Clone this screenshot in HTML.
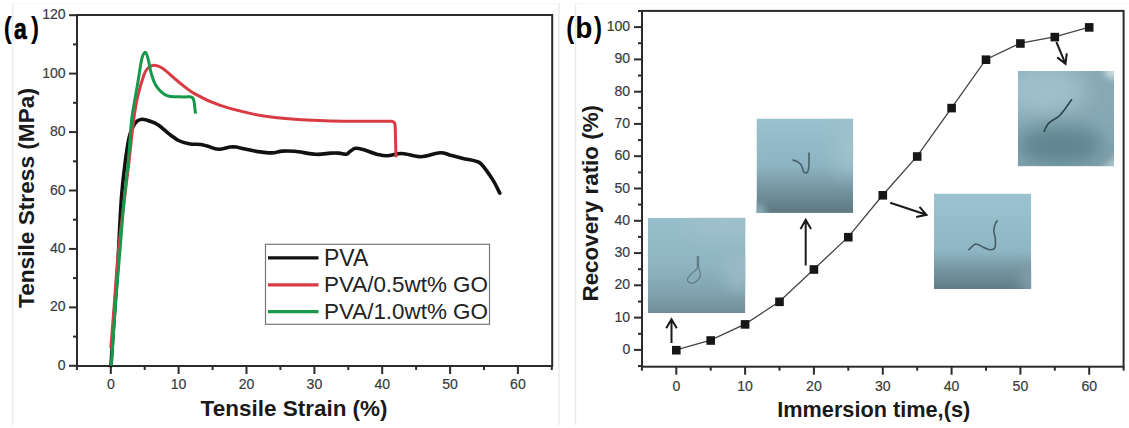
<!DOCTYPE html>
<html><head><meta charset="utf-8"><style>
html,body{margin:0;padding:0;background:#fff;width:1129px;height:428px;overflow:hidden}
svg{display:block} svg text{font-family:"Liberation Sans",sans-serif}
</style></head><body>
<svg width="1129" height="428" viewBox="0 0 1129 428">
<defs>
 <filter id="bl6" x="-50%" y="-50%" width="200%" height="200%"><feGaussianBlur stdDeviation="6"/></filter>
 <filter id="bl10" x="-50%" y="-50%" width="200%" height="200%"><feGaussianBlur stdDeviation="10"/></filter>
 <filter id="bl3" x="-50%" y="-50%" width="200%" height="200%"><feGaussianBlur stdDeviation="3"/></filter>
 <filter id="bl05" x="-50%" y="-50%" width="200%" height="200%"><feGaussianBlur stdDeviation="0.5"/></filter>
 <clipPath id="c1"><rect x="647.8" y="217.8" width="97.6" height="95.2"/></clipPath>
 <clipPath id="c2"><rect x="756.5" y="118.5" width="96.7" height="94.4"/></clipPath>
 <clipPath id="c3"><rect x="933.9" y="193.6" width="97.3" height="95.4"/></clipPath>
 <clipPath id="c4"><rect x="1017.9" y="70.9" width="96.1" height="95.4"/></clipPath>
</defs>
<g stroke="#ebebeb" stroke-width="1.5" fill="none"><line x1="12.6" y1="3" x2="12.6" y2="425"/><line x1="559" y1="3" x2="559" y2="425"/><line x1="575.5" y1="3" x2="575.5" y2="425"/></g>
<g stroke="#f7f7f7" stroke-width="1" fill="none"><line x1="13" y1="3.5" x2="559" y2="3.5"/><line x1="575.5" y1="3.5" x2="1129" y2="3.5"/></g>
<rect x="77.0" y="15.0" width="475.20000000000005" height="351.0" fill="none" stroke="#2b2b2b" stroke-width="2"/><line x1="69.0" y1="365.8" x2="77.0" y2="365.8" stroke="#2b2b2b" stroke-width="2"/><line x1="73.0" y1="336.6" x2="77.0" y2="336.6" stroke="#2b2b2b" stroke-width="2"/><line x1="69.0" y1="307.4" x2="77.0" y2="307.4" stroke="#2b2b2b" stroke-width="2"/><line x1="73.0" y1="278.1" x2="77.0" y2="278.1" stroke="#2b2b2b" stroke-width="2"/><line x1="69.0" y1="248.9" x2="77.0" y2="248.9" stroke="#2b2b2b" stroke-width="2"/><line x1="73.0" y1="219.7" x2="77.0" y2="219.7" stroke="#2b2b2b" stroke-width="2"/><line x1="69.0" y1="190.5" x2="77.0" y2="190.5" stroke="#2b2b2b" stroke-width="2"/><line x1="73.0" y1="161.3" x2="77.0" y2="161.3" stroke="#2b2b2b" stroke-width="2"/><line x1="69.0" y1="132.1" x2="77.0" y2="132.1" stroke="#2b2b2b" stroke-width="2"/><line x1="73.0" y1="102.8" x2="77.0" y2="102.8" stroke="#2b2b2b" stroke-width="2"/><line x1="69.0" y1="73.6" x2="77.0" y2="73.6" stroke="#2b2b2b" stroke-width="2"/><line x1="73.0" y1="44.4" x2="77.0" y2="44.4" stroke="#2b2b2b" stroke-width="2"/><line x1="69.0" y1="15.2" x2="77.0" y2="15.2" stroke="#2b2b2b" stroke-width="2"/><line x1="76.9" y1="366.0" x2="76.9" y2="370.0" stroke="#2b2b2b" stroke-width="2"/><line x1="110.8" y1="366.0" x2="110.8" y2="374.0" stroke="#2b2b2b" stroke-width="2"/><line x1="144.7" y1="366.0" x2="144.7" y2="370.0" stroke="#2b2b2b" stroke-width="2"/><line x1="178.6" y1="366.0" x2="178.6" y2="374.0" stroke="#2b2b2b" stroke-width="2"/><line x1="212.6" y1="366.0" x2="212.6" y2="370.0" stroke="#2b2b2b" stroke-width="2"/><line x1="246.5" y1="366.0" x2="246.5" y2="374.0" stroke="#2b2b2b" stroke-width="2"/><line x1="280.4" y1="366.0" x2="280.4" y2="370.0" stroke="#2b2b2b" stroke-width="2"/><line x1="314.4" y1="366.0" x2="314.4" y2="374.0" stroke="#2b2b2b" stroke-width="2"/><line x1="348.3" y1="366.0" x2="348.3" y2="370.0" stroke="#2b2b2b" stroke-width="2"/><line x1="382.2" y1="366.0" x2="382.2" y2="374.0" stroke="#2b2b2b" stroke-width="2"/><line x1="416.1" y1="366.0" x2="416.1" y2="370.0" stroke="#2b2b2b" stroke-width="2"/><line x1="450.1" y1="366.0" x2="450.1" y2="374.0" stroke="#2b2b2b" stroke-width="2"/><line x1="484.0" y1="366.0" x2="484.0" y2="370.0" stroke="#2b2b2b" stroke-width="2"/><line x1="517.9" y1="366.0" x2="517.9" y2="374.0" stroke="#2b2b2b" stroke-width="2"/><line x1="551.8" y1="366.0" x2="551.8" y2="370.0" stroke="#2b2b2b" stroke-width="2"/>
<g  font-size="15.3" fill="#3a3a3a" stroke="#3a3a3a" stroke-width="0.2"><text transform="translate(65.6,369.8) scale(0.92,1)" text-anchor="end">0</text><text transform="translate(65.6,311.4) scale(0.92,1)" text-anchor="end">20</text><text transform="translate(65.6,252.9) scale(0.92,1)" text-anchor="end">40</text><text transform="translate(65.6,194.5) scale(0.92,1)" text-anchor="end">60</text><text transform="translate(65.6,136.1) scale(0.92,1)" text-anchor="end">80</text><text transform="translate(65.6,77.6) scale(0.92,1)" text-anchor="end">100</text><text transform="translate(65.6,19.2) scale(0.92,1)" text-anchor="end">120</text><text transform="translate(110.8,389.2) scale(0.92,1)" text-anchor="middle">0</text><text transform="translate(178.6,389.2) scale(0.92,1)" text-anchor="middle">10</text><text transform="translate(246.5,389.2) scale(0.92,1)" text-anchor="middle">20</text><text transform="translate(314.4,389.2) scale(0.92,1)" text-anchor="middle">30</text><text transform="translate(382.2,389.2) scale(0.92,1)" text-anchor="middle">40</text><text transform="translate(450.1,389.2) scale(0.92,1)" text-anchor="middle">50</text><text transform="translate(517.9,389.2) scale(0.92,1)" text-anchor="middle">60</text></g>
<text x="200.6" y="416"  font-weight="bold" font-size="22.3" fill="#1a1a1a" textLength="187" lengthAdjust="spacingAndGlyphs">Tensile Strain (%)</text>
<text transform="translate(33.8,308) rotate(-90)" x="0" y="0"  font-weight="bold" font-size="22.5" fill="#1a1a1a" textLength="220" lengthAdjust="spacingAndGlyphs">Tensile Stress (MPa)</text>
<g  font-weight="bold" font-size="29.5" fill="#000"><text transform="translate(3.7,38.3) scale(0.82,1)">(</text><text transform="translate(14.0,38.6) scale(0.8,1)" font-size="28.6" stroke="#000" stroke-width="0.7">a</text><text transform="translate(30.9,38.3) scale(0.82,1)">)</text></g>
<path d="M111.0,365.8 C111.5,358.2 112.9,336.0 114.0,320.0 C115.1,304.0 116.3,290.0 117.5,270.0 C118.7,250.0 120.0,218.3 121.3,200.0 C122.6,181.7 124.2,170.3 125.5,160.0 C126.8,149.7 127.9,143.2 129.0,138.0 C130.1,132.8 131.0,131.4 132.0,129.0 C133.0,126.6 134.0,124.9 135.0,123.5 C136.0,122.1 136.8,121.2 138.0,120.5 C139.2,119.8 140.5,119.1 142.4,119.2 C144.3,119.3 146.8,120.0 149.5,121.0 C152.2,122.0 155.1,122.8 158.3,125.0 C161.6,127.2 165.4,131.2 169.0,133.9 C172.6,136.6 176.1,139.3 179.6,141.0 C183.1,142.7 186.6,143.4 190.2,144.0 C193.8,144.6 197.9,144.1 200.9,144.5 C203.9,144.9 205.1,145.5 208.0,146.3 C210.9,147.1 214.5,149.2 218.6,149.3 C222.7,149.4 228.3,146.9 232.7,146.8 C237.1,146.8 241.0,148.2 245.1,149.0 C249.2,149.8 253.1,150.9 257.5,151.6 C261.9,152.2 267.6,153.0 271.7,152.9 C275.8,152.8 278.5,151.4 282.3,151.1 C286.1,150.8 289.1,150.8 294.7,151.3 C300.3,151.8 310.0,154.0 316.0,154.3 C322.0,154.6 326.7,153.3 330.5,153.1 C334.3,152.9 336.3,152.9 338.9,153.1 C341.5,153.3 344.4,154.5 346.3,154.2 C348.2,153.9 348.5,152.5 350.0,151.5 C351.5,150.5 353.3,148.6 355.5,148.3 C357.7,148.0 359.4,148.5 363.0,149.5 C366.6,150.5 372.8,153.1 376.8,154.2 C380.9,155.2 383.1,155.9 387.3,155.8 C391.5,155.7 396.4,153.3 402.0,153.5 C407.6,153.7 414.7,156.8 421.0,156.7 C427.3,156.6 435.0,152.9 439.9,152.7 C444.8,152.4 446.5,154.2 450.4,155.2 C454.2,156.1 458.8,157.4 463.0,158.4 C467.2,159.4 472.5,160.1 475.6,161.1 C478.8,162.1 479.1,161.6 481.9,164.7 C484.7,167.8 489.5,174.7 492.5,179.4 C495.5,184.1 498.6,190.8 499.8,193.1" fill="none" stroke="#111" stroke-width="3.6" stroke-linejoin="round" stroke-linecap="round"/>
<path d="M110.8,348.0 C111.4,340.8 113.0,321.0 114.2,305.0 C115.5,289.0 116.6,269.5 118.3,252.0 C120.0,234.5 122.5,215.3 124.3,200.0 C126.1,184.7 127.7,173.0 129.2,160.0 C130.7,147.0 132.0,132.5 133.4,122.0 C134.8,111.5 135.8,104.8 137.6,97.0 C139.3,89.2 142.2,79.8 143.9,75.0 C145.6,70.2 146.2,69.6 148.0,68.0 C149.8,66.4 151.9,65.1 154.4,65.2 C156.9,65.3 159.0,65.8 162.9,68.4 C166.8,71.0 172.3,76.8 177.6,81.0 C182.8,85.2 187.4,89.6 194.4,93.6 C201.4,97.6 210.1,101.9 219.6,105.2 C229.1,108.5 240.7,111.4 251.2,113.6 C261.7,115.8 270.4,117.0 282.7,118.2 C295.0,119.4 311.9,120.3 324.8,120.8 C337.7,121.3 349.0,121.2 360.0,121.3 C371.0,121.4 385.8,121.3 391.0,121.3 Q395.2,121.3 395.2,126 L396,157.3" fill="none" stroke="#d93b45" stroke-width="3.0" stroke-linejoin="round" stroke-linecap="butt"/>
<path d="M111.2,365.8 C112.0,354.8 114.3,319.3 115.8,300.0 C117.3,280.7 118.6,266.7 120.0,250.0 C121.4,233.3 122.7,215.0 124.1,200.0 C125.5,185.0 127.2,173.3 128.4,160.0 C129.7,146.7 130.5,130.0 131.6,120.0 C132.7,110.0 133.8,106.0 134.8,100.0 C135.8,94.0 136.4,90.8 137.6,84.0 C138.8,77.2 140.5,64.2 141.8,58.9 C143.1,53.6 144.4,52.2 145.4,52.2 C146.4,52.2 147.1,55.3 148.1,58.9 C149.1,62.5 149.9,69.0 151.3,73.6 C152.7,78.2 153.9,82.6 156.5,86.3 C159.1,90.0 163.2,94.0 167.1,95.7 C171.0,97.5 175.8,96.6 179.7,96.8 C183.5,97.0 188.4,96.8 190.2,96.8 Q193.3,97 194,101 L195.5,113.6" fill="none" stroke="#17994b" stroke-width="3.0" stroke-linejoin="round" stroke-linecap="butt"/>
<rect x="265.5" y="244.3" width="224" height="80" fill="#fff" stroke="#777" stroke-width="1.2"/>
<line x1="268" y1="257.9" x2="318.5" y2="257.9" stroke="#111" stroke-width="3.2"/>
<line x1="268" y1="284.8" x2="318.5" y2="284.8" stroke="#d93b45" stroke-width="3.2"/>
<line x1="268" y1="311.6" x2="318.5" y2="311.6" stroke="#17994b" stroke-width="3.2"/>
<g  font-size="22.5" fill="#222"><text x="324" y="265.6" font-size="23">PVA</text><text x="324" y="292.4" textLength="164" lengthAdjust="spacingAndGlyphs">PVA/0.5wt% GO</text><text x="324" y="319.2" textLength="164" lengthAdjust="spacingAndGlyphs">PVA/1.0wt% GO</text></g>
<rect x="642.0" y="10.9" width="481.5999999999999" height="355.8" fill="none" stroke="#2b2b2b" stroke-width="2"/><line x1="638.0" y1="366.0" x2="642.0" y2="366.0" stroke="#2b2b2b" stroke-width="2"/><line x1="634.0" y1="349.9" x2="642.0" y2="349.9" stroke="#2b2b2b" stroke-width="2"/><line x1="638.0" y1="333.8" x2="642.0" y2="333.8" stroke="#2b2b2b" stroke-width="2"/><line x1="634.0" y1="317.6" x2="642.0" y2="317.6" stroke="#2b2b2b" stroke-width="2"/><line x1="638.0" y1="301.5" x2="642.0" y2="301.5" stroke="#2b2b2b" stroke-width="2"/><line x1="634.0" y1="285.3" x2="642.0" y2="285.3" stroke="#2b2b2b" stroke-width="2"/><line x1="638.0" y1="269.2" x2="642.0" y2="269.2" stroke="#2b2b2b" stroke-width="2"/><line x1="634.0" y1="253.1" x2="642.0" y2="253.1" stroke="#2b2b2b" stroke-width="2"/><line x1="638.0" y1="236.9" x2="642.0" y2="236.9" stroke="#2b2b2b" stroke-width="2"/><line x1="634.0" y1="220.8" x2="642.0" y2="220.8" stroke="#2b2b2b" stroke-width="2"/><line x1="638.0" y1="204.6" x2="642.0" y2="204.6" stroke="#2b2b2b" stroke-width="2"/><line x1="634.0" y1="188.5" x2="642.0" y2="188.5" stroke="#2b2b2b" stroke-width="2"/><line x1="638.0" y1="172.4" x2="642.0" y2="172.4" stroke="#2b2b2b" stroke-width="2"/><line x1="634.0" y1="156.2" x2="642.0" y2="156.2" stroke="#2b2b2b" stroke-width="2"/><line x1="638.0" y1="140.1" x2="642.0" y2="140.1" stroke="#2b2b2b" stroke-width="2"/><line x1="634.0" y1="123.9" x2="642.0" y2="123.9" stroke="#2b2b2b" stroke-width="2"/><line x1="638.0" y1="107.8" x2="642.0" y2="107.8" stroke="#2b2b2b" stroke-width="2"/><line x1="634.0" y1="91.7" x2="642.0" y2="91.7" stroke="#2b2b2b" stroke-width="2"/><line x1="638.0" y1="75.5" x2="642.0" y2="75.5" stroke="#2b2b2b" stroke-width="2"/><line x1="634.0" y1="59.4" x2="642.0" y2="59.4" stroke="#2b2b2b" stroke-width="2"/><line x1="638.0" y1="43.2" x2="642.0" y2="43.2" stroke="#2b2b2b" stroke-width="2"/><line x1="634.0" y1="27.1" x2="642.0" y2="27.1" stroke="#2b2b2b" stroke-width="2"/><line x1="638.0" y1="11.0" x2="642.0" y2="11.0" stroke="#2b2b2b" stroke-width="2"/><line x1="641.9" y1="366.7" x2="641.9" y2="370.7" stroke="#2b2b2b" stroke-width="2"/><line x1="676.3" y1="366.7" x2="676.3" y2="374.7" stroke="#2b2b2b" stroke-width="2"/><line x1="710.7" y1="366.7" x2="710.7" y2="370.7" stroke="#2b2b2b" stroke-width="2"/><line x1="745.1" y1="366.7" x2="745.1" y2="374.7" stroke="#2b2b2b" stroke-width="2"/><line x1="779.5" y1="366.7" x2="779.5" y2="370.7" stroke="#2b2b2b" stroke-width="2"/><line x1="813.9" y1="366.7" x2="813.9" y2="374.7" stroke="#2b2b2b" stroke-width="2"/><line x1="848.3" y1="366.7" x2="848.3" y2="370.7" stroke="#2b2b2b" stroke-width="2"/><line x1="882.8" y1="366.7" x2="882.8" y2="374.7" stroke="#2b2b2b" stroke-width="2"/><line x1="917.2" y1="366.7" x2="917.2" y2="370.7" stroke="#2b2b2b" stroke-width="2"/><line x1="951.6" y1="366.7" x2="951.6" y2="374.7" stroke="#2b2b2b" stroke-width="2"/><line x1="986.0" y1="366.7" x2="986.0" y2="370.7" stroke="#2b2b2b" stroke-width="2"/><line x1="1020.4" y1="366.7" x2="1020.4" y2="374.7" stroke="#2b2b2b" stroke-width="2"/><line x1="1054.8" y1="366.7" x2="1054.8" y2="370.7" stroke="#2b2b2b" stroke-width="2"/><line x1="1089.2" y1="366.7" x2="1089.2" y2="374.7" stroke="#2b2b2b" stroke-width="2"/><line x1="1123.6" y1="366.7" x2="1123.6" y2="370.7" stroke="#2b2b2b" stroke-width="2"/>
<g  font-size="15.3" fill="#3a3a3a" stroke="#3a3a3a" stroke-width="0.2"><text transform="translate(630.2,353.9) scale(0.92,1)" text-anchor="end">0</text><text transform="translate(630.2,321.6) scale(0.92,1)" text-anchor="end">10</text><text transform="translate(630.2,289.3) scale(0.92,1)" text-anchor="end">20</text><text transform="translate(630.2,257.1) scale(0.92,1)" text-anchor="end">30</text><text transform="translate(630.2,224.8) scale(0.92,1)" text-anchor="end">40</text><text transform="translate(630.2,192.5) scale(0.92,1)" text-anchor="end">50</text><text transform="translate(630.2,160.2) scale(0.92,1)" text-anchor="end">60</text><text transform="translate(630.2,127.9) scale(0.92,1)" text-anchor="end">70</text><text transform="translate(630.2,95.7) scale(0.92,1)" text-anchor="end">80</text><text transform="translate(630.2,63.4) scale(0.92,1)" text-anchor="end">90</text><text transform="translate(630.2,31.1) scale(0.92,1)" text-anchor="end">100</text><text transform="translate(676.3,391.0) scale(0.92,1)" text-anchor="middle">0</text><text transform="translate(745.1,391.0) scale(0.92,1)" text-anchor="middle">10</text><text transform="translate(813.9,391.0) scale(0.92,1)" text-anchor="middle">20</text><text transform="translate(882.8,391.0) scale(0.92,1)" text-anchor="middle">30</text><text transform="translate(951.6,391.0) scale(0.92,1)" text-anchor="middle">40</text><text transform="translate(1020.4,391.0) scale(0.92,1)" text-anchor="middle">50</text><text transform="translate(1089.2,391.0) scale(0.92,1)" text-anchor="middle">60</text></g>
<text x="777.2" y="417.1"  font-weight="bold" font-size="21.6" fill="#1a1a1a" textLength="193" lengthAdjust="spacingAndGlyphs">Immersion time,(s)</text>
<text transform="translate(597.8,301.5) rotate(-90)" x="0" y="0"  font-weight="bold" font-size="22.2" fill="#1a1a1a" textLength="196.5" lengthAdjust="spacingAndGlyphs">Recovery ratio (%)</text>
<g  font-weight="bold" font-size="29.5" fill="#000"><text transform="translate(566.2,38.3) scale(0.82,1)">(</text><text transform="translate(575.3,38.3) scale(0.95,1)">b</text><text transform="translate(594.1,38.3) scale(0.82,1)">)</text></g>
<linearGradient id="g1" x1="0" y1="0" x2="0" y2="1"><stop offset="0" stop-color="#98bfcc"/><stop offset="0.5" stop-color="#8fb5c2"/><stop offset="0.8" stop-color="#80a2ae"/><stop offset="1" stop-color="#708e98"/></linearGradient>
<linearGradient id="g2" x1="0" y1="0" x2="0" y2="1"><stop offset="0" stop-color="#9ac1ce"/><stop offset="0.5" stop-color="#8db4c2"/><stop offset="0.72" stop-color="#7898a4"/><stop offset="1" stop-color="#5c7982"/></linearGradient>
<linearGradient id="g3" x1="0" y1="0" x2="0" y2="1"><stop offset="0" stop-color="#9cc3d0"/><stop offset="0.6" stop-color="#8fb6c4"/><stop offset="0.78" stop-color="#7898a4"/><stop offset="1" stop-color="#5f7b85"/></linearGradient>
<g clip-path="url(#c1)"><rect x="647.8" y="217.8" width="97.6" height="95.2" fill="url(#g1)"/><ellipse cx="725" cy="222" rx="40" ry="14" fill="#9fc0cb" filter="url(#bl10)"/><ellipse cx="738" cy="268" rx="14" ry="22" fill="#97b9c5" filter="url(#bl6)"/></g>
<path d="M697.3,256 L697.3,268.5 C694,272 688.5,275.5 687.5,279 C687,282.5 690,283.5 693,283 C697,282 700.8,278 700.4,273.5 C700,270.5 699,269 698.6,266.5 L698.6,256" fill="none" stroke="#5d7780" stroke-width="1.1" filter="url(#bl05)"/>
<path d="M697.9,256 L697.9,268" fill="none" stroke="#4e6870" stroke-width="1.6" filter="url(#bl05)"/>
<g clip-path="url(#c2)"><rect x="756.5" y="118.5" width="96.7" height="94.4" fill="url(#g2)"/><ellipse cx="850" cy="148" rx="14" ry="28" fill="#a0c2cd" filter="url(#bl10)"/><ellipse cx="758" cy="212" rx="8" ry="8" fill="#88a9b4" filter="url(#bl3)"/></g>
<path d="M792.6,159.9 C795,160.5 798.5,162 800.5,164 C802.5,166.5 802.8,169.5 803.3,171 C804,173 805.5,173.3 807,172.5 C809,171 809,166 809,162 L809,152.6" fill="none" stroke="#45606a" stroke-width="1.6" filter="url(#bl05)"/>
<g clip-path="url(#c3)"><rect x="933.9" y="193.6" width="97.3" height="95.4" fill="url(#g3)"/><ellipse cx="1030" cy="280" rx="10" ry="14" fill="#7f9ea9" filter="url(#bl6)"/></g>
<path d="M968.4,250.3 C971,247.5 973.5,244.5 975.8,244 C978.5,244 980,245.5 982.6,246.9 C986,248.5 989,250 991.5,249.8 C994,249.5 995.4,248.5 995.4,245 C995.6,241 995.5,238.5 995,236.6 C994,233 993.5,231 993.9,229.7 C994.3,226 995,224.5 995.5,223.5 C996.3,222 997,221 997.8,220.4" fill="none" stroke="#435d66" stroke-width="1.6" filter="url(#bl05)"/>
<g clip-path="url(#c4)"><rect x="1017.9" y="70.9" width="96.1" height="95.4" fill="#86a9b4"/><ellipse cx="1045" cy="90" rx="42" ry="26" fill="#9fbfc9" filter="url(#bl10)"/><ellipse cx="1060" cy="146" rx="45" ry="20" fill="#5f8590" filter="url(#bl10)"/><circle cx="1058" cy="106" r="80" fill="none" stroke="#adc4c9" stroke-width="10" filter="url(#bl3)"/><circle cx="1058" cy="106" r="72" fill="none" stroke="#6f919b" stroke-width="3" filter="url(#bl3)"/><ellipse cx="1114" cy="71" rx="10" ry="8" fill="#c8d8dc" filter="url(#bl3)"/></g>
<path d="M1072,99.3 C1070,102 1067.5,105.5 1065,109 C1062,113 1060,116 1056.5,118 C1053,120 1050,121.5 1048,124 C1046,126.5 1045,129 1044,132" fill="none" stroke="#2f474f" stroke-width="1.7" filter="url(#bl05)"/>
<path d="M671.5,343.0 L671.5,319.2 M676.8,328.3 L671.5,319.2 L666.2,328.3" fill="none" stroke="#1a1a1a" stroke-width="2.0" stroke-linecap="butt" stroke-linejoin="miter"/>
<path d="M805.7,265.4 L805.7,219.8 M811.0,228.9 L805.7,219.8 L800.5,228.9" fill="none" stroke="#1a1a1a" stroke-width="2.0" stroke-linecap="butt" stroke-linejoin="miter"/>
<path d="M890.2,202.7 L926.5,214.8 M916.2,216.9 L926.5,214.8 L919.5,206.9" fill="none" stroke="#1a1a1a" stroke-width="2.0" stroke-linecap="butt" stroke-linejoin="miter"/>
<path d="M1056.4,42.0 L1065.5,63.8 M1057.2,57.4 L1065.5,63.8 L1066.8,53.4" fill="none" stroke="#1a1a1a" stroke-width="2.0" stroke-linecap="butt" stroke-linejoin="miter"/>
<polyline points="676.3,349.9 710.7,340.2 745.1,324.1 779.5,301.5 813.9,269.2 848.3,236.9 882.8,195.0 917.2,156.2 951.6,107.8 986.0,59.4 1020.4,43.2 1054.8,36.8 1089.2,27.1" fill="none" stroke="#444" stroke-width="1.3"/>
<rect x="672.0" y="345.9" width="8.6" height="8.6" fill="#161616"/><rect x="706.4" y="336.2" width="8.6" height="8.6" fill="#161616"/><rect x="740.8" y="320.1" width="8.6" height="8.6" fill="#161616"/><rect x="775.2" y="297.5" width="8.6" height="8.6" fill="#161616"/><rect x="809.6" y="265.2" width="8.6" height="8.6" fill="#161616"/><rect x="844.0" y="232.9" width="8.6" height="8.6" fill="#161616"/><rect x="878.5" y="191.0" width="8.6" height="8.6" fill="#161616"/><rect x="912.9" y="152.2" width="8.6" height="8.6" fill="#161616"/><rect x="947.3" y="103.8" width="8.6" height="8.6" fill="#161616"/><rect x="981.7" y="55.4" width="8.6" height="8.6" fill="#161616"/><rect x="1016.1" y="39.2" width="8.6" height="8.6" fill="#161616"/><rect x="1050.5" y="32.8" width="8.6" height="8.6" fill="#161616"/><rect x="1084.9" y="23.1" width="8.6" height="8.6" fill="#161616"/></svg>
</body></html>
